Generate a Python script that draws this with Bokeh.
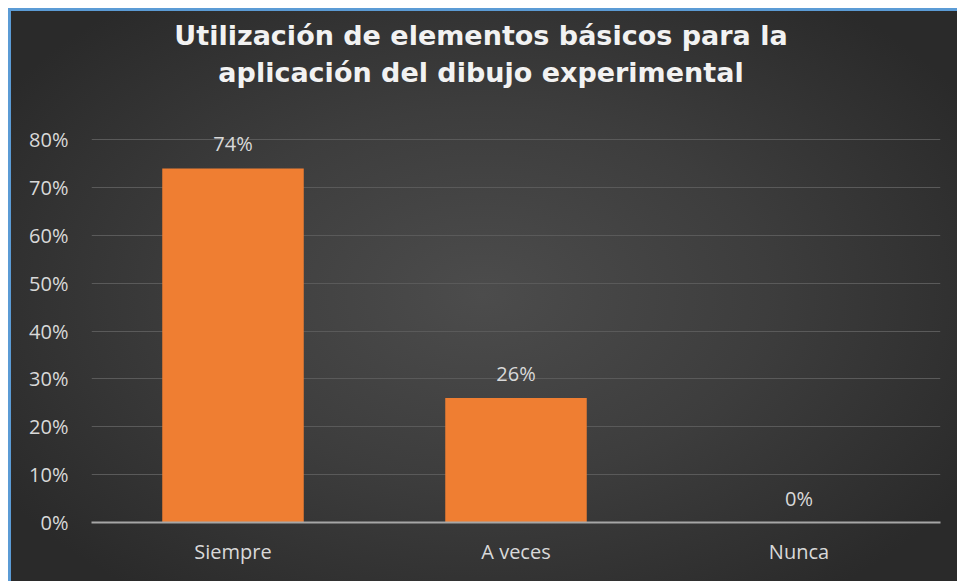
from bokeh.plotting import figure
from bokeh.models import ColumnDataSource, LabelSet, Label, NumeralTickFormatter, FixedTicker, Range1d
from bokeh.core.properties import value
from bokeh.embed import file_html
from bokeh.resources import INLINE

categories = ["Siempre", "A veces", "Nunca"]
values = [0.74, 0.26, 0.0]
labels = [f"{round(v * 100)}%" for v in values]
y_ticks = [0.0, 0.1, 0.2, 0.3, 0.4, 0.5, 0.6, 0.7, 0.8]
title_lines = ["Utilización de elementos básicos para la", "aplicación del dibujo experimental"]

src = ColumnDataSource(dict(cat=categories, val=values, lab=labels))

FONT = "Open Sans"
TXT = "#d9d9d9"

p = figure(x_range=categories, y_range=Range1d(0, 1.07), width=949, height=573,
           output_backend="svg", toolbar_location=None,
           min_border_left=83, min_border_right=17, min_border_top=2, min_border_bottom=59)

p.styles = {
    "margin": "8px 0 0 8px",
    "background": "radial-gradient(ellipse 60% 65% at 50% 50%, #4c4c4c 0%, #3d3d3d 50%, #2a2a2a 100%)",
    "box-shadow": "inset 3px 3px 0 #5b9bd5",
}
p.border_fill_alpha = 0
p.background_fill_alpha = 0
p.outline_line_color = None

# two-line title drawn at the top of the canvas
for txt, ty in zip(title_lines, [1.018, 0.940]):
    p.add_layout(Label(x=1.5, y=ty, text=txt, text_align="center", text_baseline="middle",
                       x_offset=-35, text_font="DejaVu Sans", text_font_style="bold",
                       text_font_size="27px", text_color="#f2f2f2"))

p.vbar(x="cat", top="val", width=0.5, source=src, fill_color="#ef7e32", line_color=None)

p.add_layout(LabelSet(x="cat", y="val", text="lab", source=src, text_align="center",
                      text_baseline="bottom", y_offset=11, text_font=value(FONT),
                      text_font_size="20px", text_color=TXT))

p.yaxis.ticker = FixedTicker(ticks=y_ticks)
p.yaxis.formatter = NumeralTickFormatter(format="0%")
p.yaxis.axis_line_color = None
p.yaxis.major_tick_line_color = None
p.yaxis.minor_tick_line_color = None
p.yaxis.major_label_standoff = 17
p.yaxis.major_label_text_font = FONT
p.yaxis.major_label_text_font_size = "20px"
p.yaxis.major_label_text_color = TXT

p.xaxis.axis_line_color = "#a6a6a6"
p.xaxis.axis_line_width = 2
p.xaxis.major_tick_line_color = None
p.xaxis.major_label_standoff = 9
p.xaxis.major_label_text_font = FONT
p.xaxis.major_label_text_font_size = "20px"
p.xaxis.major_label_text_color = TXT

p.xgrid.grid_line_color = None
p.ygrid.grid_line_color = "#5a5a5a"
p.ygrid.grid_line_width = 1

open("out.html", "w").write(file_html(p, INLINE))
